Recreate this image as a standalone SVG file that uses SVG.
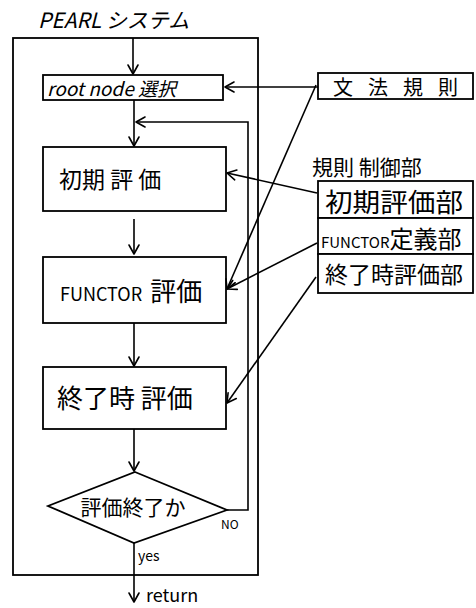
<svg xmlns="http://www.w3.org/2000/svg" width="476" height="608" viewBox="0 0 476 608">
<defs>
<marker id="arr" markerUnits="userSpaceOnUse" markerWidth="14" markerHeight="14" viewBox="-12 -7 14 14" refX="0" refY="0" orient="auto">
<polyline points="-9,-5 0,0 -9,5" fill="none" stroke="#000" stroke-width="1.6" stroke-linecap="round" stroke-linejoin="round"/>
</marker>
</defs>
<style>
.b{fill:#fff;stroke:#000;stroke-width:1.8}
.a{fill:none;stroke:#000;stroke-width:1.6;marker-end:url(#arr)}
text{font-family:"Noto Sans CJK JP","Noto Sans",sans-serif;fill:#000}
.i{font-style:italic}
</style>
<rect width="476" height="608" fill="#fff"/>
<g id="frame">
<rect x="13" y="38" width="245" height="537" fill="none" stroke="#000" stroke-width="1.8"/>
<text x="38" y="28" font-size="21" class="i">PEARL システム</text>
</g>
<g id="root">
<rect class="b" x="43" y="75" width="180" height="25"/>
<text x="47" y="96" font-size="19" class="i">root node 選択</text>
</g>
<g id="init">
<rect class="b" x="43" y="147" width="183" height="64"/>
<text x="59" y="188" font-size="23">初期 評 価</text>
</g>
<g id="functor">
<rect class="b" x="43" y="257" width="183" height="66"/>
<text x="60" y="301" font-size="26"><tspan font-size="18">FUNCTOR</tspan><tspan dx="8">評価</tspan></text>
</g>
<g id="end">
<rect class="b" x="43" y="367" width="183" height="62"/>
<text x="57" y="408" font-size="26">終了時 評価</text>
</g>
<g id="decision">
<polygon class="b" points="135,472 227,510 134,543 48,506"/>
<text x="133" y="515" font-size="21" text-anchor="middle">評価終了か</text>
<text x="221" y="529" font-size="12">NO</text>
<text x="138" y="561" font-size="14">yes</text>
</g>
<g id="return">
<text x="146" y="602" font-size="18">return</text>
</g>
<g id="grammar">
<rect class="b" x="318" y="73" width="155" height="26"/>
<text x="333" y="95" font-size="20" letter-spacing="15">文法規則</text>
</g>
<g id="control">
<text x="312" y="175" font-size="21">規則 制御部</text>
<rect class="b" x="318" y="181" width="155" height="37"/>
<rect class="b" x="318" y="218" width="155" height="36"/>
<rect class="b" x="318" y="254" width="155" height="39"/>
<text x="325" y="212" font-size="26" textLength="138" lengthAdjust="spacingAndGlyphs">初期評価部</text>
<text x="321" y="248" font-size="24"><tspan font-size="15">FUNCTOR</tspan><tspan>定義部</tspan></text>
<text x="325" y="283" font-size="23" textLength="138" lengthAdjust="spacingAndGlyphs">終了時評価部</text>
</g>
<g id="connectors">
<line class="a" x1="133" y1="38" x2="133" y2="74"/>
<line class="a" x1="134" y1="100" x2="134" y2="146"/>
<polyline class="a" points="227,510 248,510 248,122 136,122"/>
<line class="a" x1="134" y1="219" x2="134" y2="254"/>
<line class="a" x1="134" y1="323" x2="134" y2="366"/>
<line class="a" x1="134" y1="429" x2="134" y2="471"/>
<line class="a" x1="134" y1="543" x2="134" y2="602"/>
<line class="a" x1="318" y1="87" x2="225" y2="87"/>
<line class="a" x1="316" y1="85" x2="227" y2="289"/>
<line class="a" x1="317" y1="193" x2="227" y2="173"/>
<line class="a" x1="317" y1="243" x2="227" y2="289"/>
<line class="a" x1="316" y1="277" x2="227" y2="403"/>
</g>
</svg>
